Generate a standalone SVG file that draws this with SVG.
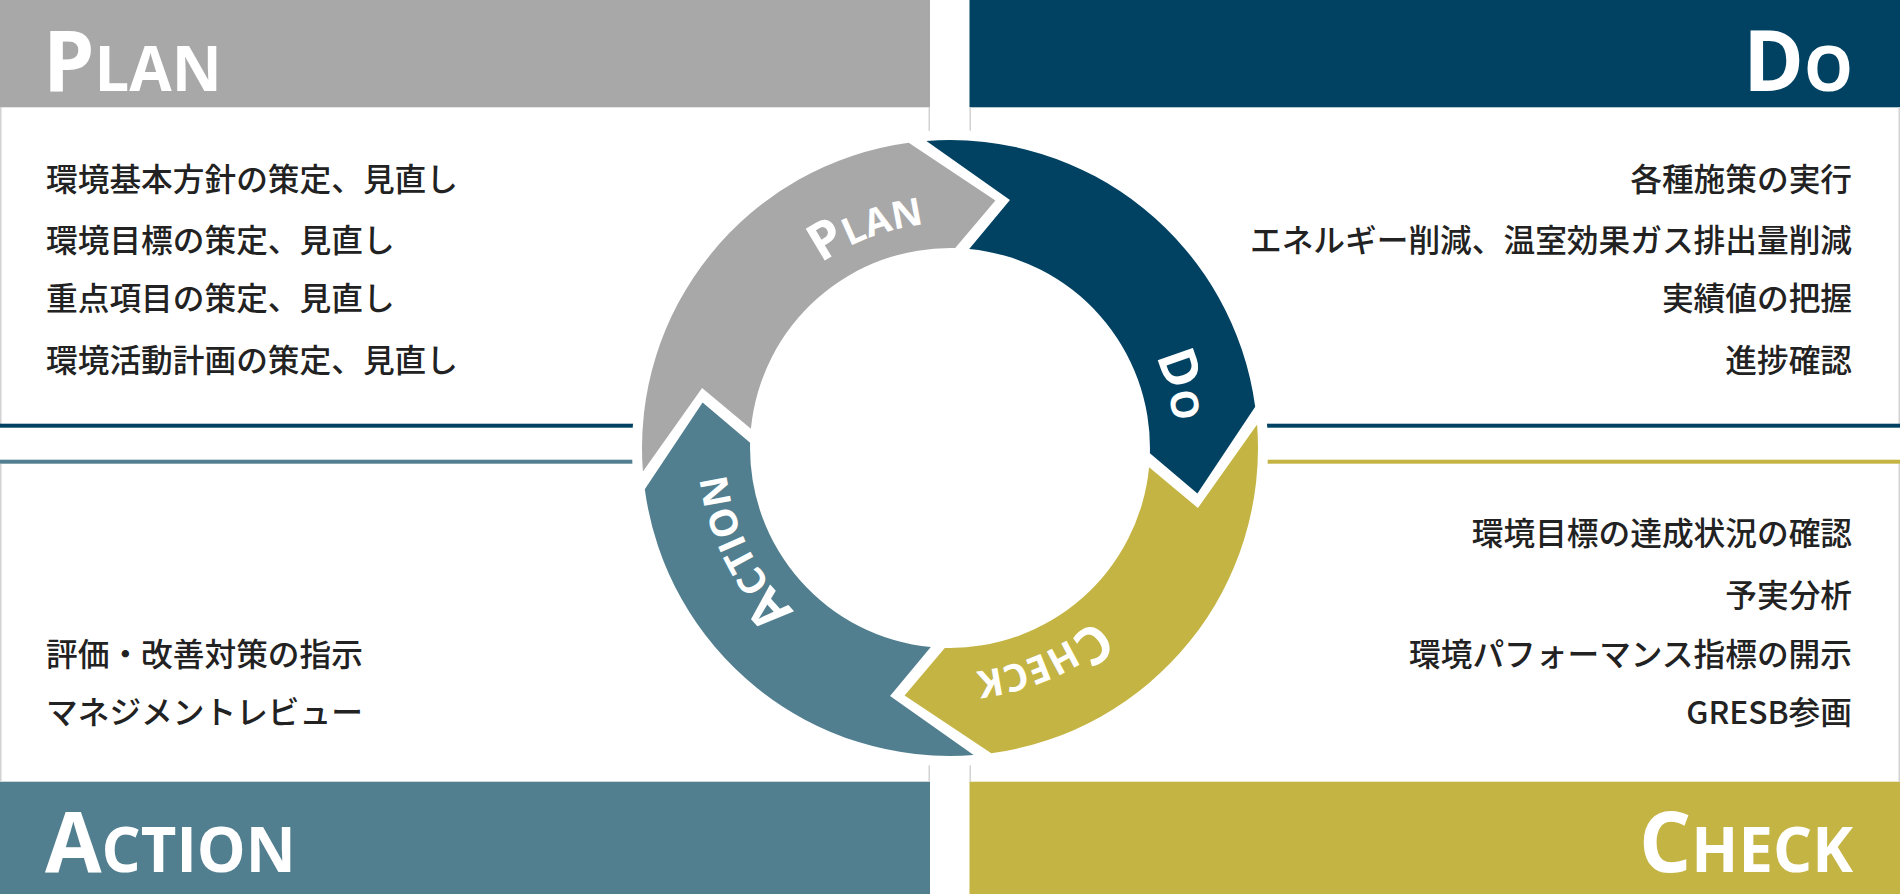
<svg xmlns="http://www.w3.org/2000/svg" width="1900" height="894" viewBox="0 0 1900 894">
<defs>
<style>
.hd{font-family:"Open Sans","Noto Sans","Liberation Sans",sans-serif;font-weight:700;fill:#ffffff}
.big{font-size:84px}
.sm{font-size:63px}
.rl{font-family:"Open Sans","Noto Sans","Liberation Sans",sans-serif;font-weight:700;fill:#ffffff}
.rb{font-size:52px}
.rs{font-size:38px}
.tx{font-family:"Noto Sans CJK JP","Noto Sans",sans-serif;font-size:31.7px;fill:#222222;font-weight:500}
.tr{text-anchor:end}
.bd{stroke:#d2d2d2;stroke-width:1.5;fill:none}
.plan{fill:#a8a8a8}
.do{fill:#014263}
.check{fill:#c4b443}
.action{fill:#517f8f}
</style>
<path id="seg" d="M926.4 140.9 L1009.95 200.1 L969.2 248.9 A200 200 0 0 1 1149.9 453.2 L1197.4 493.4 L1255.2 406.7 A308 308 0 0 0 926.4 140.9 Z"/>
<path id="lp-plan" d="M725.4 434.7 A225 225 0 0 1 924.1 224.5" fill="none"/>
<path id="lp-do" d="M963.3 223.4 A225 225 0 0 1 1173.5 422.1" fill="none"/>
<path id="lp-check" d="M1174.6 461.3 A225 225 0 0 1 975.9 671.5" fill="none"/>
<path id="lp-action" d="M936.7 672.6 A225 225 0 0 1 726.5 473.9" fill="none"/>
</defs>
<rect width="1900" height="894" fill="#ffffff"/>

<g id="plan">
<rect class="plan" x="0" y="0" width="930" height="107.3"/>
<text class="hd" transform="matrix(0.977 0 0 1 43 91)" x="0" y="0"><tspan class="big">P</tspan><tspan class="sm">LAN</tspan></text>
<line class="bd" x1="0.75" y1="107" x2="0.75" y2="424"/>
<line class="bd" x1="929.25" y1="107" x2="929.25" y2="424"/>
<rect x="0" y="423.7" width="930" height="4" fill="#014263"/>
<text class="tx" x="46" y="191">環境基本方針の策定、見直し</text>
<text class="tx" x="46" y="251.5">環境目標の策定、見直し</text>
<text class="tx" x="46" y="310">重点項目の策定、見直し</text>
<text class="tx" x="46" y="371.5">環境活動計画の策定、見直し</text>
</g>

<g id="do">
<rect class="do" x="969.5" y="0" width="930.5" height="107.3"/>
<text class="hd tr" transform="matrix(0.977 0 0 1 1853 91)" x="0" y="0"><tspan class="big">D</tspan><tspan class="sm">O</tspan></text>
<line class="bd" x1="970.25" y1="107" x2="970.25" y2="424"/>
<line class="bd" x1="1899.25" y1="107" x2="1899.25" y2="424"/>
<rect x="969.5" y="423.7" width="930.5" height="4" fill="#014263"/>
<text class="tx tr" x="1852" y="191">各種施策の実行</text>
<text class="tx tr" x="1852" y="251.5">エネルギー削減、温室効果ガス排出量削減</text>
<text class="tx tr" x="1852" y="310">実績値の把握</text>
<text class="tx tr" x="1852" y="371.5">進捗確認</text>
</g>

<g id="check">
<rect class="check" x="969.5" y="781.7" width="930.5" height="112.3"/>
<text class="hd tr" transform="matrix(0.977 0 0 1 1853 872)" x="0" y="0"><tspan class="big">C</tspan><tspan class="sm">HECK</tspan></text>
<line class="bd" x1="970.25" y1="463.7" x2="970.25" y2="782"/>
<line class="bd" x1="1899.25" y1="463.7" x2="1899.25" y2="782"/>
<rect x="969.5" y="459.7" width="930.5" height="4" fill="#c4b443"/>
<text class="tx tr" x="1852" y="545">環境目標の達成状況の確認</text>
<text class="tx tr" x="1852" y="607">予実分析</text>
<text class="tx tr" x="1852" y="666">環境パフォーマンス指標の開示</text>
<text class="tx tr" x="1852" y="724">GRESB参画</text>
</g>

<g id="action">
<rect class="action" x="0" y="781.7" width="930" height="112.3"/>
<text class="hd" transform="matrix(0.977 0 0 1 45 872)" x="0" y="0"><tspan class="big">A</tspan><tspan class="sm">CTION</tspan></text>
<line class="bd" x1="0.75" y1="463.7" x2="0.75" y2="782"/>
<line class="bd" x1="929.25" y1="463.7" x2="929.25" y2="782"/>
<rect x="0" y="459.7" width="930" height="4" fill="#517f8f"/>
<text class="tx" x="46" y="666">評価・改善対策の指示</text>
<text class="tx" x="46" y="724">マネジメントレビュー</text>
</g>

<g id="cycle">
<circle cx="950" cy="448" r="318" fill="#ffffff"/>
<use href="#seg" class="plan" transform="rotate(-90 950 448)"/>
<use href="#seg" class="do"/>
<use href="#seg" class="check" transform="rotate(90 950 448)"/>
<use href="#seg" class="action" transform="rotate(180 950 448)"/>
<text class="rl" text-anchor="end"><textPath href="#lp-plan" startOffset="100%"><tspan class="rb">P</tspan><tspan class="rs">LAN</tspan></textPath></text>
<text class="rl" text-anchor="end"><textPath href="#lp-do" startOffset="100%"><tspan class="rb">D</tspan><tspan class="rs">O</tspan></textPath></text>
<text class="rl" text-anchor="end"><textPath href="#lp-check" startOffset="100%"><tspan class="rb">C</tspan><tspan class="rs">HECK</tspan></textPath></text>
<text class="rl" text-anchor="end"><textPath href="#lp-action" startOffset="100%"><tspan class="rb">A</tspan><tspan class="rs">CTION</tspan></textPath></text>
</g>
</svg>
